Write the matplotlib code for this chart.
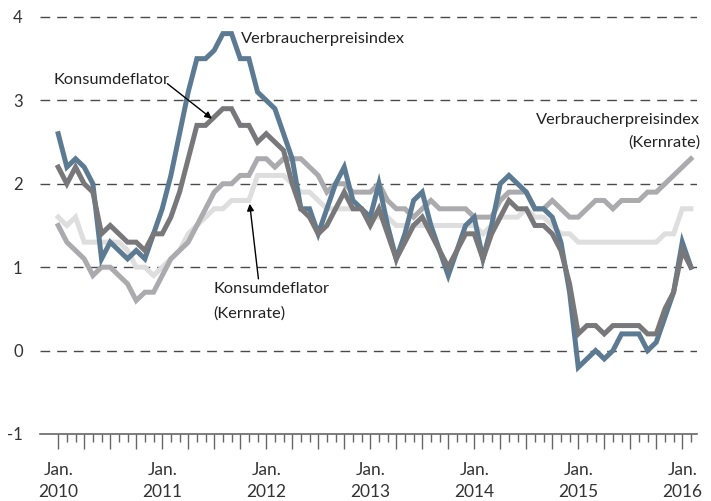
import numpy as np
import matplotlib
matplotlib.use("Agg")
import matplotlib.pyplot as plt

plt.rcParams['font.family'] = ['Lato', 'DejaVu Sans']

# monthly year-over-year rates, Jan 2010 .. Feb 2016
vpi = [2.6, 2.2, 2.3, 2.2, 2.0, 1.1, 1.3, 1.2, 1.1, 1.2, 1.1, 1.4,
       1.7, 2.1, 2.6, 3.1, 3.5, 3.5, 3.6, 3.8, 3.8, 3.5, 3.5, 3.1,
       3.0, 2.9, 2.6, 2.3, 1.7, 1.7, 1.4, 1.7, 2.0, 2.2, 1.8, 1.7,
       1.6, 2.0, 1.5, 1.1, 1.4, 1.8, 1.9, 1.5, 1.2, 0.9, 1.2, 1.5,
       1.6, 1.1, 1.5, 2.0, 2.1, 2.0, 1.9, 1.7, 1.7, 1.6, 1.3, 0.7,
       -0.2, -0.1, 0.0, -0.1, 0.0, 0.2, 0.2, 0.2, 0.0, 0.1, 0.4, 0.7,
       1.3, 1.0]
konsumdeflator = [2.2, 2.0, 2.2, 2.0, 1.9, 1.4, 1.5, 1.4, 1.3, 1.3, 1.2, 1.4,
                  1.4, 1.6, 1.9, 2.3, 2.7, 2.7, 2.8, 2.9, 2.9, 2.7, 2.7, 2.5,
                  2.6, 2.5, 2.4, 2.0, 1.7, 1.6, 1.4, 1.5, 1.7, 1.9, 1.7, 1.7,
                  1.5, 1.7, 1.4, 1.1, 1.3, 1.5, 1.6, 1.4, 1.2, 1.0, 1.2, 1.4,
                  1.4, 1.1, 1.4, 1.6, 1.8, 1.7, 1.7, 1.5, 1.5, 1.4, 1.2, 0.8,
                  0.2, 0.3, 0.3, 0.2, 0.3, 0.3, 0.3, 0.3, 0.2, 0.2, 0.5, 0.7,
                  1.2, 1.0]
vpi_kern = [1.5, 1.3, 1.2, 1.1, 0.9, 1.0, 1.0, 0.9, 0.8, 0.6, 0.7, 0.7,
            0.9, 1.1, 1.2, 1.3, 1.5, 1.7, 1.9, 2.0, 2.0, 2.1, 2.1, 2.3,
            2.3, 2.2, 2.3, 2.3, 2.3, 2.2, 2.1, 1.9, 2.0, 2.0, 1.9, 1.9,
            1.9, 2.0, 1.8, 1.7, 1.7, 1.6, 1.7, 1.8, 1.7, 1.7, 1.7, 1.7,
            1.6, 1.6, 1.6, 1.8, 1.9, 1.9, 1.9, 1.7, 1.7, 1.8, 1.7, 1.6,
            1.6, 1.7, 1.8, 1.8, 1.7, 1.8, 1.8, 1.8, 1.9, 1.9, 2.0, 2.1,
            2.2, 2.3]
konsum_kern = [1.6, 1.5, 1.6, 1.3, 1.3, 1.3, 1.3, 1.3, 1.2, 1.0, 1.0, 0.9,
               1.0, 1.1, 1.2, 1.4, 1.5, 1.6, 1.7, 1.7, 1.8, 1.8, 1.8, 2.1,
               2.1, 2.1, 2.1, 2.0, 1.9, 1.9, 1.8, 1.7, 1.7, 1.7, 1.7, 1.7,
               1.6, 1.6, 1.6, 1.5, 1.5, 1.5, 1.5, 1.5, 1.5, 1.5, 1.5, 1.5,
               1.5, 1.4, 1.5, 1.6, 1.6, 1.6, 1.7, 1.6, 1.6, 1.5, 1.4, 1.4,
               1.3, 1.3, 1.3, 1.3, 1.3, 1.3, 1.3, 1.3, 1.3, 1.3, 1.4, 1.4,
               1.7, 1.7]

m = np.arange(len(vpi))

fig = plt.figure(figsize=(7.11, 5.01), dpi=100)
ax = fig.add_axes([40/711, 67/501, 657/711, 0.9695 - 67/501])

ax.plot(m, konsum_kern, color='#dededf', lw=3.6, solid_joinstyle='miter')
ax.plot(m, vpi_kern, color='#ababad', lw=3.6, solid_joinstyle='miter')
ax.plot(m, vpi, color='#5c7b93', lw=3.6, solid_joinstyle='miter')
ax.plot(m, konsumdeflator, color='#78787a', lw=3.6, solid_joinstyle='miter')

for v in [0, 1, 2, 3, 4]:
    ax.axhline(v, color='#4a4a4a', lw=1.0, ls=(0, (7, 5)), zorder=0)

ax.set_xlim(-2.1, 73.7)
ax.set_ylim(-1, 4.02)
for s in ['top', 'right', 'left']:
    ax.spines[s].set_visible(False)
ax.spines['bottom'].set_color('#666666')
ax.spines['bottom'].set_linewidth(1.2)

ax.set_yticks([-1, 0, 1, 2, 3, 4])
ax.set_yticklabels(['-1', '0', '1', '2', '3', '4'])
ax.tick_params(axis='y', length=0, pad=12.5, labelsize=12, labelcolor='#333333')

major = np.arange(0, len(vpi), 3)
ax.set_xticks(major)
ax.set_xticklabels(['Jan.\n%d' % (2010 + k // 12) if k % 12 == 0 else '' for k in major],
                   linespacing=1.45)
ax.set_xticks(m, minor=True)
ax.tick_params(axis='x', which='major', length=11, width=1, color='#666666',
               pad=9, labelsize=12.5, labelcolor='#333333')
ax.tick_params(axis='x', which='minor', length=6, width=1, color='#666666')

fs = 11.8
ax.text(21.1, 3.74, 'Verbraucherpreisindex', fontsize=fs, ha='left', va='center', color='#222222')
ax.text(-0.6, 3.25, 'Konsumdeflator', fontsize=fs, ha='left', va='center', color='#222222')
ax.annotate('', xy=(17.73, 2.78), xytext=(12.6, 3.20),
            arrowprops=dict(arrowstyle='-|>', color='black', lw=1, mutation_scale=10,
                            shrinkA=0, shrinkB=0))
ax.text(74.05, 2.77, 'Verbraucherpreisindex', fontsize=fs, ha='right', va='center',
        color='#222222', clip_on=False)
ax.text(74.05, 2.49, '(Kernrate)', fontsize=fs, ha='right', va='center',
        color='#222222', clip_on=False)
ax.text(17.9, 0.74, 'Konsumdeflator', fontsize=fs, ha='left', va='center', color='#222222')
ax.text(17.9, 0.45, '(Kernrate)', fontsize=fs, ha='left', va='center', color='#222222')
ax.annotate('', xy=(22.09, 1.76), xytext=(23.1, 0.86),
            arrowprops=dict(arrowstyle='-|>', color='black', lw=1, mutation_scale=10,
                            shrinkA=0, shrinkB=0))

fig.savefig('out.png', dpi=100)
